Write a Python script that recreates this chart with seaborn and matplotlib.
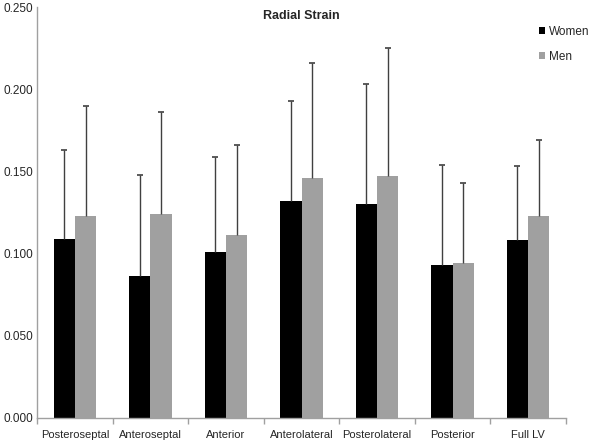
import numpy as np
import pandas as pd
import seaborn as sns
import matplotlib.pyplot as plt

segments = ["Posteroseptal", "Anteroseptal", "Anterior", "Anterolateral",
            "Posterolateral", "Posterior", "Full LV"]
groups = ["Women", "Men"]
women_mean = [0.109, 0.086, 0.101, 0.132, 0.130, 0.093, 0.108]
men_mean = [0.123, 0.124, 0.111, 0.146, 0.147, 0.094, 0.123]
women_sd = [0.054, 0.062, 0.058, 0.061, 0.073, 0.061, 0.045]
men_sd = [0.067, 0.062, 0.055, 0.070, 0.078, 0.049, 0.046]
yticks = [0.000, 0.050, 0.100, 0.150, 0.200, 0.250]

df = pd.DataFrame({
    "segment": segments * 2,
    "sex": ["Women"] * len(segments) + ["Men"] * len(segments),
    "strain": women_mean + men_mean,
    "sd": women_sd + men_sd,
})

sns.set_theme(style="white")
plt.rcParams['font.family'] = ['Liberation Sans', 'DejaVu Sans']

fig = plt.figure(figsize=(6, 4.43), dpi=100)
ax = fig.add_axes([0.062, 0.057, 0.881, 0.927])

palette = {"Women": "#000000", "Men": "#a0a0a0"}
sns.barplot(data=df, x="segment", y="strain", hue="sex", hue_order=groups,
            palette=palette, errorbar=None, width=0.56, saturation=1,
            gap=0, linewidth=0, ax=ax)

# upward-only error bars at each bar's centre
for container, g in zip(ax.containers, groups):
    sub = df[df["sex"] == g]
    xs = [p.get_x() + p.get_width() / 2 for p in container.patches]
    _, caps, _ = ax.errorbar(xs, sub["strain"],
                             yerr=[np.zeros(len(sub)), sub["sd"]],
                             fmt="none", ecolor="#404040", elinewidth=1,
                             capsize=2.5, capthick=1.2)
    caps[0].set_visible(False)

ax.set_ylim(0, 0.25)
ax.set_xlim(-0.5, len(segments) - 0.5)
ax.set_yticks(yticks)
ax.set_yticklabels([f"{v:.3f}" for v in yticks], fontsize=8.5)
ax.set_xticks(range(len(segments)))
ax.set_xticklabels(segments, fontsize=8)
ax.set_xticks(np.arange(len(segments) + 1) - 0.5, minor=True)
ax.tick_params(axis="x", which="major", length=0, pad=9)
ax.tick_params(axis="x", which="minor", length=4, color="#a0a0a0",
               direction="out", bottom=True)
ax.tick_params(axis="y", length=0, pad=3)
ax.set_xlabel("")
ax.set_ylabel("")

for side in ["top", "right"]:
    ax.spines[side].set_visible(False)
for side in ["left", "bottom"]:
    ax.spines[side].set_color("#a0a0a0")
    ax.spines[side].set_linewidth(1)

ax.set_title("Radial Strain", fontsize=9, fontweight="bold", y=0.95)

handles, labels = ax.get_legend_handles_labels()
ax.legend(handles, labels, loc="upper left", bbox_to_anchor=(0.93, 0.98),
          frameon=False, fontsize=8.5, handlelength=0.5, handleheight=0.5,
          handletextpad=0.3, labelspacing=1.1)

fig.savefig("out.png", dpi=100)
